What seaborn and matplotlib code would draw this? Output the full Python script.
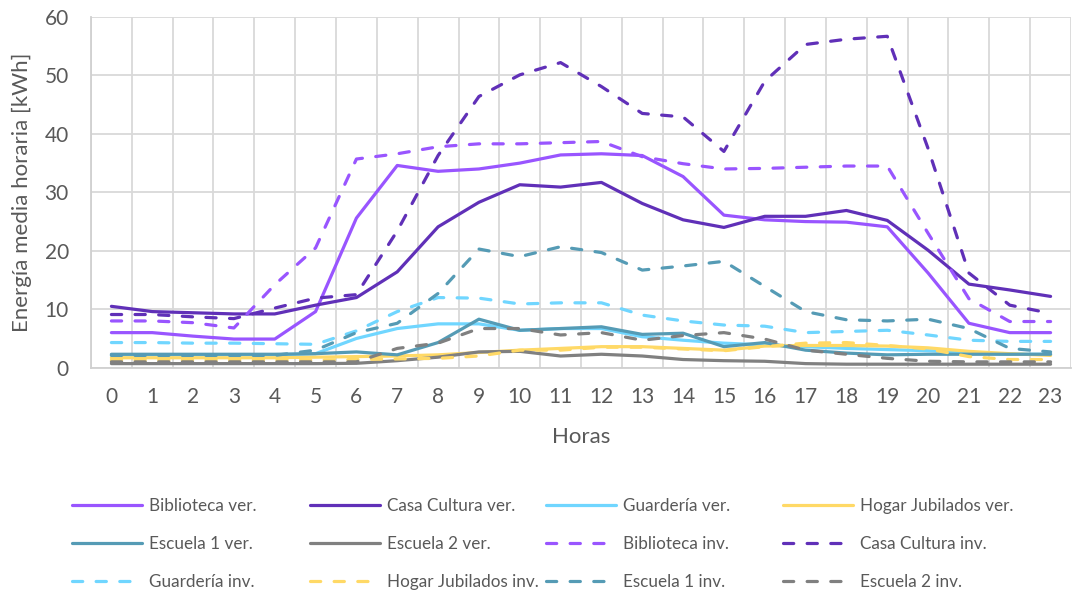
import numpy as np
import pandas as pd
import matplotlib
matplotlib.use("Agg")
import matplotlib.pyplot as plt
from matplotlib.lines import Line2D
import seaborn as sns

hours = list(range(24))

biblioteca_ver = [6.0, 6.0, 5.4, 4.9, 4.9, 9.6, 25.6, 34.6, 33.6, 34.0, 35.0, 36.4,
                  36.6, 36.3, 32.7, 26.1, 25.3, 25.0, 24.9, 24.1, 16.2, 7.6, 6.0, 6.0]
casa_cultura_ver = [10.5, 9.6, 9.4, 9.2, 9.2, 10.7, 12.0, 16.4, 24.1, 28.3, 31.3, 30.9,
                    31.7, 28.1, 25.3, 24.0, 25.9, 25.9, 26.9, 25.2, 20.1, 14.3, 13.3, 12.2]
guarderia_ver = [2.2, 2.2, 2.2, 2.2, 2.2, 2.4, 5.0, 6.7, 7.5, 7.5, 6.4, 6.7,
                 6.7, 5.3, 4.7, 4.2, 3.9, 3.6, 3.3, 3.1, 2.9, 2.6, 2.3, 2.3]
hogar_ver = [1.7, 1.7, 1.7, 1.7, 1.7, 1.8, 1.9, 2.0, 2.2, 2.6, 3.0, 3.3,
             3.6, 3.6, 3.3, 3.0, 3.7, 3.8, 3.8, 3.7, 3.4, 2.8, 2.4, 2.1]
escuela1_ver = [2.3, 2.3, 2.3, 2.3, 2.3, 2.4, 2.7, 2.2, 4.3, 8.3, 6.4, 6.7,
                7.0, 5.7, 5.9, 3.6, 4.3, 3.0, 2.5, 2.2, 2.3, 2.3, 2.3, 2.3]
escuela2_ver = [0.7, 0.7, 0.7, 0.7, 0.7, 0.7, 0.75, 1.2, 1.8, 2.7, 2.8, 2.0,
                2.3, 2.0, 1.4, 1.2, 1.1, 0.7, 0.6, 0.6, 0.6, 0.6, 0.6, 0.6]
biblioteca_inv = [8.0, 8.0, 7.7, 6.8, 14.2, 20.5, 35.7, 36.6, 37.8, 38.3, 38.3, 38.5,
                  38.7, 36.1, 34.9, 34.0, 34.1, 34.3, 34.5, 34.5, 23.0, 11.8, 7.9, 7.9]
casa_cultura_inv = [9.1, 9.1, 8.7, 8.4, 10.2, 11.9, 12.5, 23.4, 36.3, 46.4, 50.1, 52.2,
                    48.1, 43.5, 42.9, 37.0, 49.0, 55.3, 56.2, 56.7, 37.5, 16.2, 10.7, 9.3]
guarderia_inv = [4.3, 4.3, 4.2, 4.2, 4.1, 4.0, 6.3, 9.6, 12.0, 11.9, 10.9, 11.1,
                 11.1, 9.0, 8.0, 7.3, 7.1, 6.0, 6.2, 6.4, 5.6, 4.7, 4.5, 4.5]
hogar_inv = [1.3, 1.3, 1.3, 1.3, 1.3, 1.3, 1.4, 1.5, 1.6, 2.0, 3.0, 3.0,
             3.5, 3.5, 3.2, 2.9, 3.6, 4.2, 4.3, 3.8, 3.2, 1.9, 1.4, 1.4]
escuela1_inv = [2.1, 2.1, 2.1, 2.1, 2.1, 3.0, 6.0, 7.6, 12.7, 20.3, 19.0, 20.7,
                19.7, 16.7, 17.4, 18.2, 13.9, 9.6, 8.2, 8.0, 8.3, 6.7, 3.3, 2.7]
escuela2_inv = [1.0, 1.0, 1.0, 1.0, 1.0, 1.0, 1.0, 3.3, 4.2, 6.7, 6.7, 5.6,
                6.0, 4.7, 5.5, 6.0, 4.9, 3.0, 2.3, 1.6, 1.1, 1.0, 1.0, 1.0]

series_names = ["Biblioteca ver.", "Casa Cultura ver.", "Guardería ver.", "Hogar Jubilados ver.",
                "Escuela 1 ver.", "Escuela 2 ver.", "Biblioteca inv.", "Casa Cultura inv.",
                "Guardería inv.", "Hogar Jubilados inv.", "Escuela 1 inv.", "Escuela 2 inv."]
series_values = [biblioteca_ver, casa_cultura_ver, guarderia_ver, hogar_ver,
                 escuela1_ver, escuela2_ver, biblioteca_inv, casa_cultura_inv,
                 guarderia_inv, hogar_inv, escuela1_inv, escuela2_inv]

building_colors = {
    "Biblioteca": "#9955FF",
    "Casa Cultura": "#6030B8",
    "Guardería": "#70D6FF",
    "Hogar Jubilados": "#FFD966",
    "Escuela 1": "#559BB5",
    "Escuela 2": "#808080",
}

rows = []
for name, vals in zip(series_names, series_values):
    for h, v in zip(hours, vals):
        rows.append({"Hora": h, "Energía": v, "Serie": name})
df = pd.DataFrame(rows)

sns.set_theme(style="white")
plt.rcParams["font.family"] = ["Lato", "DejaVu Sans"]

fig = plt.figure(figsize=(10.72, 5.94), dpi=100)
ax = fig.add_axes([91 / 1072, 1 - 367.7 / 594, 980 / 1072, 350.7 / 594])

LW = 2.3
DASH = (0, (3.2, 4.2))
TEXT = "#595959"

def style_of(name):
    base = name.rsplit(" ", 1)[0]
    color = building_colors[base]
    ls = "-" if name.endswith("ver.") else DASH
    return color, ls

for name in series_names:
    color, ls = style_of(name)
    sub = df[df["Serie"] == name]
    sns.lineplot(data=sub, x="Hora", y="Energía", ax=ax, color=color,
                 linewidth=LW, linestyle=ls, dash_capstyle="round",
                 legend=False, zorder=3)

ax.set_xlim(-0.5, 23.5)
ax.set_ylim(0, 60)
ax.set_xticks(hours)
ax.set_xticklabels([str(h) for h in hours])
ax.set_xticks(np.arange(-0.5, 24, 1), minor=True)
ax.set_yticks(range(0, 61, 10))
ax.grid(False)
ax.grid(True, which="minor", axis="x", color="#D9D9D9", linewidth=1.3, zorder=0)
ax.grid(True, which="major", axis="y", color="#D9D9D9", linewidth=1.3, zorder=0)
ax.tick_params(axis="both", which="both", length=0, labelsize=15, labelcolor=TEXT)
ax.tick_params(axis="x", pad=14)
ax.tick_params(axis="y", pad=16)
for side in ["top", "right"]:
    ax.spines[side].set_visible(False)
for side in ["left", "bottom"]:
    ax.spines[side].set_color("#D0D0D0")
    ax.spines[side].set_linewidth(1.3)

ax.set_xlabel("Horas", fontsize=16, color=TEXT, labelpad=14)
ax.set_ylabel("Energía media horaria [kWh]", fontsize=16, color=TEXT, labelpad=9)

# legend: four equally spaced columns, entries ordered row by row
col_x = [72 / 1072, 310 / 1072, 546 / 1072, 783 / 1072]
for c in range(4):
    handles = []
    for r in range(3):
        name = series_names[r * 4 + c]
        color, ls = style_of(name)
        handles.append(Line2D([], [], color=color, linewidth=LW, linestyle=ls,
                              dash_capstyle="round", label=name))
    fig.legend(handles=handles, loc="upper left", bbox_to_anchor=(col_x[c], 1 - 498 / 594),
               frameon=False, fontsize=12.3, handlelength=4.1, handletextpad=0.4,
               labelspacing=1.28, labelcolor=TEXT, borderaxespad=0, borderpad=0)

fig.savefig("out.png", dpi=100)
